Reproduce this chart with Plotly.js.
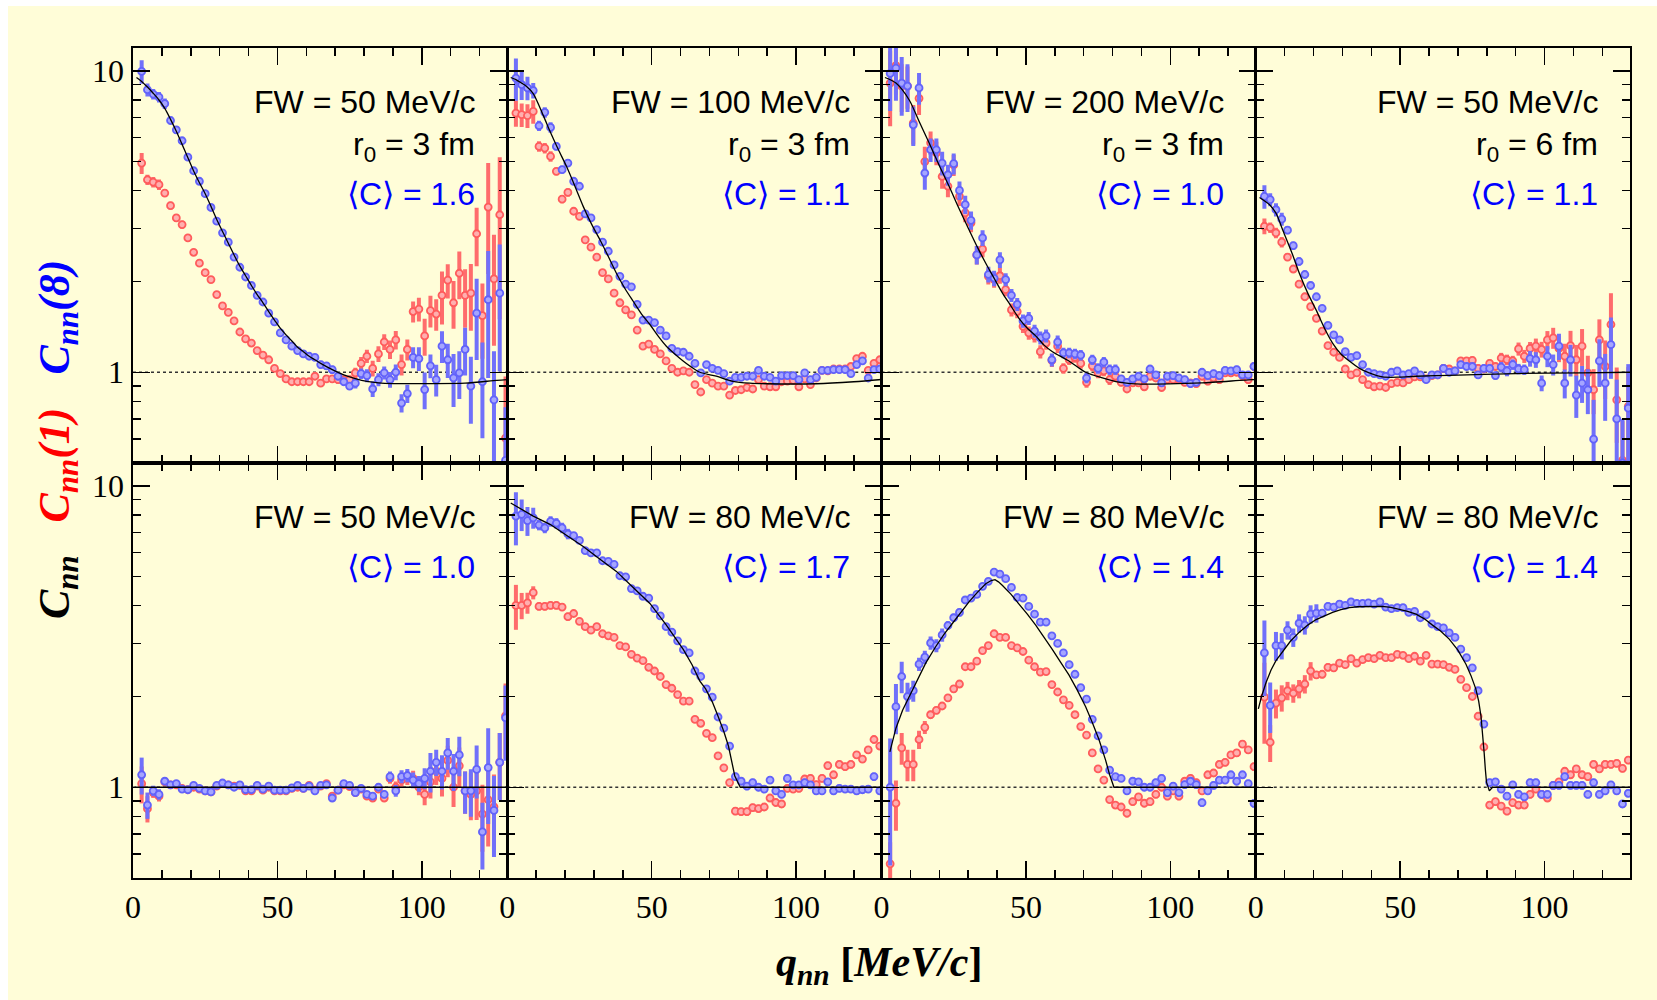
<!DOCTYPE html>
<html><head><meta charset="utf-8">
<script src="https://cdn.plot.ly/plotly-3.0.1.min.js"></script>
<style>
html,body{margin:0;padding:0;background:#ffffff;}
#chart{position:absolute;left:8px;top:6px;width:1649px;height:994px;}
</style></head><body><div id="chart"></div>
<script>
// ---------- data ----------
const Q = [3,5,7,9,11,13,15,17,19,21,23,25,27,29,31,33,35,37,39,41,43,45,47,49,51,53,55,57,59,61,63,65,67,69,71,73,75,77,79,81,83,85,87,89,91,93,95,97,99,101,103,105,107,109,111,113,115,117,119,121,123,125,127,129];

const X_MAJOR = [0, 50, 100];
const X_MAJOR_TEXT = ['0', '50', '100'];
const X_MINOR = [10, 20, 30, 40, 60, 70, 80, 90, 110, 120];
const Y_MAJOR = [1, 10];
const Y_MAJOR_TEXT = ['1', '10'];
const Y_MINOR = [0.6, 0.7, 0.8, 0.9, 2, 3, 4, 5, 6, 7, 8, 9];
const X_RANGE = [0, 129.6];
const Y_RANGE_VALUES = [0.5, 11.9];
const REF_LEVEL = 1;

// Panel 1: FW = 50 MeV/c, r0 = 3 fm
const P1_BLUE = [9.95,8.65,8.37,8.18,7.78,6.84,6.37,5.86,5.17,4.66,4.30,3.91,3.52,3.17,2.90,2.70,2.41,2.23,2.07,1.94,1.80,1.71,1.57,1.47,1.35,1.28,1.22,1.18,1.15,1.13,1.12,1.06,1.05,1.02,0.97,0.93,0.90,0.92,0.99,0.975,0.88,0.945,0.995,0.945,1.0,0.79,0.85,1.12,1.11,0.876,1.05,0.945,1.22,1.10,0.958,0.995,1.19,0.90,1.57,0.93,1.74,0.81,1.83,0.51];
const P1_BLUE_ERR = [9,5,4,4,4,3,3,3,2.5,2.5,2,2,2,2,2,2,2,2,2,2,2,2,2,2,2,2,2,2,2,2,2,3,3,3,3,3,3,4,4,5,6,5,5,6,6,7,7,8,9,14,9,12,12,13,20,18,18,25,30,35,45,45,45,50];
const P1_RED = [4.94,4.35,4.27,4.19,3.93,3.57,3.25,3.09,2.79,2.50,2.30,2.14,2.03,1.81,1.66,1.58,1.48,1.36,1.29,1.25,1.18,1.14,1.10,1.03,0.99,0.95,0.93,0.93,0.93,0.93,0.97,0.92,0.95,0.95,0.945,0.945,0.945,0.995,1.07,1.13,1.03,1.15,1.26,1.19,1.28,1.06,1.19,1.59,1.62,1.32,1.60,1.56,1.80,2.02,1.70,2.13,1.80,1.83,2.88,1.54,3.53,2.04,3.33,0.605];
const P1_RED_ERR = [8,4,4,4,3,3,3,3,2.5,2.5,2,2,2,2,2,2,2,2,2,2,2,2,2,2,2,2,2,2,2,2,2,2,2,2,3,3,3,4,5,5,6,6,6,7,7,8,8,8,9,14,12,12,20,13,18,18,22,25,22,28,40,40,55,60];
const P1_CURVE_Q = [1.2,3,5,7,9,11,13,15,17,19,21,23,25,27,29,31,33,35,37,39,41,43,45,47,49,51,53,55,57,59,61,63,65,69,73,77,81,85,90,102,115,126,129.6];
const P1_CURVE_C = [9.5,9.22,8.83,8.42,8.0,7.5,6.9,6.3,5.7,5.15,4.65,4.25,3.91,3.55,3.21,2.93,2.68,2.45,2.25,2.09,1.94,1.81,1.70,1.59,1.49,1.40,1.33,1.27,1.21,1.17,1.13,1.10,1.07,1.02,0.98,0.953,0.933,0.922,0.917,0.917,0.92,0.94,0.945];
const P1_TEXT = ['FW = 50 MeV/c', 'r<sub>0</sub> = 3 fm'];
const P1_MEANC = '\u27E8C\u27E9 = 1.6';

// Panel 2: FW = 100 MeV/c, r0 = 3 fm
const P2_BLUE = [9.46,8.99,8.77,8.6,6.57,7.28,6.49,5.61,4.70,4.94,4.30,4.14,3.35,3.25,2.97,2.70,2.52,2.27,2.08,1.96,1.92,1.68,1.49,1.49,1.46,1.38,1.32,1.20,1.17,1.165,1.13,1.07,0.995,1.06,1.03,1.015,0.99,0.935,0.962,0.962,0.97,0.97,1.015,0.97,0.962,0.935,0.975,0.975,0.975,0.945,0.995,0.945,0.962,1.015,1.015,1.02,1.02,1.02,0.99,1.06,1.09,0.957,1.02,1.025];
const P2_BLUE_ERR = [16,11,9,6,4,4,4,3,3,3,2.5,2.5,2.5,2.5,2.5,2,2,2,2,2,2,2,2,2,2,2,2,2,2,2,2,2,2,2,2,2,2,2,2,2,2,2,2,2,2,2,2,2,2,2,2,2,2,2,2,2,2,2,2,2.5,2.5,2.5,2.5,2.5];
const P2_RED = [7.24,7.15,7.10,7.33,5.61,5.54,5.20,4.64,3.75,3.95,3.42,3.29,2.75,2.60,2.41,2.14,2.04,1.83,1.70,1.61,1.55,1.38,1.22,1.24,1.19,1.15,1.09,1.03,1.00,1.01,1.00,0.91,0.86,0.945,0.92,0.90,0.90,0.84,0.87,0.875,0.89,0.88,0.945,0.90,0.895,0.895,0.93,0.935,0.94,0.895,0.95,0.91,0.957,1.015,1.01,1.025,1.025,1.025,1.045,1.11,1.13,1.015,1.07,1.10];
const P2_RED_ERR = [10,9,9,9,4,4,4,3,3,3,2.5,2.5,2.5,2.5,2.5,2,2,2,2,2,2,2,2,2,2,2,2,2,2,2,2,2,2,2,2,2,2,2,2,2,2,2,2,2,2,2,2,2,2,2,2,2,2,2,2,2,2,2,2,2.5,2.5,2.5,2.5,2.5];
const P2_CURVE_Q = [1.2,3,5,6.7,9,12.5,14.8,17.6,20.5,23.4,26.3,29.2,32.1,35,37.8,40.7,43.6,46.5,49.4,52.2,55.1,58,60.9,63.8,66.7,72.4,78.2,84,89.7,107,120,129.6];
const P2_CURVE_C = [9.5,9.35,9.1,8.87,8.4,7.1,6.3,5.5,4.82,4.15,3.55,3.1,2.75,2.42,2.13,1.9,1.72,1.56,1.44,1.32,1.22,1.15,1.09,1.04,1.0,0.97,0.933,0.92,0.916,0.916,0.93,0.946];
const P2_TEXT = ['FW = 100 MeV/c', 'r<sub>0</sub> = 3 fm'];
const P2_MEANC = '\u27E8C\u27E9 = 1.1';

// Panel 3: FW = 200 MeV/c, r0 = 3 fm
const P3_BLUE = [9.8,10.2,9.1,8.9,6.62,8.77,4.58,5.47,5.47,4.94,4.52,4.92,4.01,3.60,3.19,2.45,2.79,2.11,2.05,2.36,2.03,1.80,1.68,1.48,1.51,1.37,1.30,1.32,1.10,1.26,1.16,1.16,1.15,1.14,0.957,1.10,1.03,1.08,1.02,1.02,0.95,0.926,0.95,0.97,0.95,1.025,0.98,0.922,0.97,0.975,0.957,0.945,0.917,0.926,1.0,0.975,0.99,0.975,1.015,1.01,1.02,0.98,0.98,1.045];
const P3_BLUE_ERR = [25,22,22,18,15,12,12,9,9,9,8,8,7,7,7,7,6,6,6,6,5,5,5,5,5,5,5,5,5,5,4,4,4,4,4,4,4,4,4,4,3,3,3,3,3,3,3,3,3,3,3,3,3,3,3,3,3,3,3,3,3,3,3,3];
const P3_RED = [9.1,10.4,8.9,8.9,6.7,8.1,5.0,5.77,5.34,4.46,4.14,4.87,3.83,3.38,3.13,2.45,2.56,2.08,2.03,2.09,1.88,1.61,1.59,1.42,1.35,1.32,1.17,1.25,1.095,1.22,1.03,1.10,1.12,1.07,0.926,1.05,0.995,1.01,0.945,0.97,0.926,0.88,0.922,0.922,0.895,0.97,0.957,0.89,0.945,0.945,0.945,0.926,0.922,0.917,0.97,0.934,0.957,0.945,0.995,0.995,1.0,0.975,0.945,1.045];
const P3_RED_ERR = [28,20,18,16,15,12,12,9,9,9,8,8,7,7,7,7,6,6,6,6,5,5,5,5,5,5,5,5,5,5,4,4,4,4,4,4,4,4,4,4,3,3,3,3,3,3,3,3,3,3,3,3,3,3,3,3,3,3,3,3,3,3,3,3];
const P3_CURVE_Q = [1.2,5,9.6,13,16.5,20,23.4,26.8,30.3,33.2,36.1,39,41.9,44.8,47.6,50.5,53.4,56.3,59.2,64.9,70.7,76.5,82.2,88,99.5,111,128.4,129.6];
const P3_CURVE_C = [9.5,9.1,8.0,6.8,5.76,4.85,4.14,3.5,2.97,2.6,2.30,2.05,1.83,1.66,1.51,1.40,1.32,1.23,1.17,1.09,1.0,0.958,0.927,0.915,0.915,0.922,0.945,0.945];
const P3_TEXT = ['FW = 200 MeV/c', 'r<sub>0</sub> = 3 fm'];
const P3_MEANC = '\u27E8C\u27E9 = 1.0';

// Panel 4: FW = 50 MeV/c, r0 = 6 fm
const P4_BLUE = [3.83,3.74,3.46,3.22,2.96,2.63,2.33,2.11,1.94,1.78,1.63,1.43,1.33,1.28,1.17,1.12,1.135,1.06,1.0,0.99,0.98,0.97,1.0,1.01,0.98,0.99,1.01,0.98,0.945,0.98,0.98,1.03,1.0,1.01,1.06,1.045,1.045,0.98,1.03,1.03,0.975,1.04,1.01,1.06,1.025,1.02,1.11,1.10,0.92,1.13,1.06,1.22,0.92,1.10,0.84,0.92,0.875,0.60,1.09,0.92,1.235,0.70,0.50,0.76];
const P4_BLUE_ERR = [9,5,5,5,3,3,3,3,3,2,2,2,2,2,2,2,2,2,2,2,2,2,2,2,2,2,2,2,2,2,2,3,3,3,3,3,3,3,3,3,3,4,4,4,4,4,6,6,6,8,8,10,11,12,16,14,17,35,18,25,23,35,40,40];
const P4_RED = [3.05,3.02,2.90,2.70,2.41,2.20,1.96,1.78,1.65,1.51,1.37,1.225,1.165,1.12,1.025,0.98,0.995,0.945,0.91,0.895,0.90,0.89,0.917,0.926,0.922,0.945,0.965,0.965,0.95,0.975,0.98,1.03,1.025,1.01,1.09,1.09,1.095,1.03,1.025,1.07,1.045,1.115,1.10,1.09,1.195,1.13,1.20,1.22,1.19,1.28,1.30,1.20,1.13,1.225,1.10,1.22,0.995,0.875,1.28,1.045,1.44,0.81,0.51,0.77];
const P4_RED_ERR = [6,4,4,4,3,3,3,3,3,2,2,2,2,2,2,2,2,2,2,2,2,2,2,2,2,2,2,2,2,2,2,3,3,3,3,3,3,3,3,3,3,4,4,4,5,5,5,6,6,7,8,10,10,12,12,14,14,17,17,22,27,28,35,35];
const P4_CURVE_Q = [1.3,4.7,7.0,9.3,12.8,15.1,18,20.9,23.8,26.6,29.5,32.4,35.9,39.3,43.9,49.7,55.5,67,90,113,129.6];
const P4_CURVE_C = [3.80,3.60,3.37,2.97,2.45,2.13,1.83,1.61,1.40,1.25,1.15,1.09,1.03,0.995,0.965,0.963,0.97,0.977,0.99,0.995,1.0];
const P4_TEXT = ['FW = 50 MeV/c', 'r<sub>0</sub> = 6 fm'];
const P4_MEANC = '\u27E8C\u27E9 = 1.1';

// Panel 5: FW = 50 MeV/c
const P5_BLUE = [1.10,0.873,0.973,0.947,1.047,1.019,1.028,0.986,0.981,1.014,0.992,0.973,0.965,1.014,1.033,1.019,1.0,1.019,0.981,0.981,1.014,0.986,1.008,0.978,0.978,0.978,0.995,1.014,0.992,1.008,0.973,1.014,1.019,0.921,0.978,1.028,1.014,0.96,0.992,0.947,0.934,1.0,0.947,1.085,0.973,1.085,1.094,1.056,1.028,1.07,1.13,1.21,1.13,1.30,1.13,1.28,0.973,0.973,1.146,0.711,1.162,0.838,1.21,1.70];
const P5_BLUE_ERR = [14,10,4,4,2,2,2,2,2,2,2,2,2,2,2,2,2,2,2,2,2,2,2,2,2,2,2,2,2,2,2,2,2,2,2,2,2,2,2,2,2,3,3,4,4.5,5,5,6,6,8,15,10,13,12,14,15,16,18,20,25,35,30,25,28];
const P5_RED = [1.028,0.849,0.96,0.934,1.042,1.019,1.019,0.992,0.981,1.0,0.986,0.973,0.965,1.008,1.028,1.019,1.008,1.014,0.973,0.973,1.008,0.978,1.0,0.973,0.973,0.973,0.992,1.0,0.992,1.014,0.978,1.008,1.028,0.934,0.978,1.019,1.005,0.96,0.986,0.934,0.921,0.986,0.921,1.07,1.0,1.056,1.07,1.07,1.0,0.947,1.042,1.13,1.07,1.227,1.0,1.178,0.973,0.947,0.973,0.815,0.909,0.861,1.21,1.725];
const P5_RED_ERR = [14,10,4,4,2,2,2,2,2,2,2,2,2,2,2,2,2,2,2,2,2,2,2,2,2,2,2,2,2,2,2,2,2,2,2,2,2,2,2,2,2,3,3,4,4.5,5,5,6,6,8,12,10,13,12,14,15,16,18,20,25,30,28,25,28];
const P5_CURVE_Q = [0.5, 129.6];
const P5_CURVE_C = [1, 1];
const P5_TEXT = ['FW = 50 MeV/c'];
const P5_MEANC = '\u27E8C\u27E9 = 1.0';

// Panel 6: FW = 80 MeV/c, <C> = 1.7
const P6_BLUE = [7.93,8.04,7.66,7.83,7.41,7.25,7.62,7.51,7.25,6.92,6.83,6.59,6.09,5.99,5.99,5.64,5.61,5.49,5.03,4.99,4.56,4.48,4.30,4.24,3.91,3.70,3.41,3.27,3.06,2.86,2.79,2.43,2.33,2.12,1.99,1.71,1.57,1.37,1.085,1.047,1.008,1.036,1.0,0.986,1.056,0.973,0.947,1.07,1.019,1.019,1.036,1.019,0.973,0.973,1.042,0.973,0.992,0.986,0.986,0.973,0.981,0.986,1.085,0.973];
const P6_BLUE_ERR = [20,12,11,8,4,4,4,4,4,4,2,2,2,2,2,2,2,2,2,2,2,2,2,2,2,2,2,2,2,2,2,2,2,2,2,2,2,2,3,3,3,3,3,3,3,3,3,3,3,3,3,3,3,3,3,3,3,3,3,3,3,3,3,3];
const P6_RED = [4.01,4.01,4.09,4.42,3.98,3.98,4.01,4.01,3.96,3.68,3.77,3.55,3.41,3.32,3.41,3.23,3.18,3.14,2.95,2.92,2.76,2.68,2.63,2.50,2.43,2.33,2.19,2.13,2.03,1.93,1.93,1.68,1.63,1.51,1.46,1.27,1.16,1.036,0.833,0.83,0.83,0.856,0.85,0.86,0.921,0.89,0.88,0.992,0.986,0.992,1.065,1.07,1.02,1.07,1.18,1.10,1.19,1.17,1.19,1.28,1.24,1.33,1.44,1.37];
const P6_RED_ERR = [17,10,8,5,3,3,3,3,3,3,2,2,2,2,2,2,2,2,2,2,2,2,2,2,2,2,2,2,2,2,2,2,2,2,2,2,2,2,3,3,3,3,3,3,3,3,3,3,3,3,3,3,3,3,3,3,3,3,3,3,3,3,3,3];
const P6_CURVE_Q = [1.2,5,9,14.8,20.5,26.3,32,37.8,43.6,49.4,55.1,58,61,64,66.7,68.7,71,73,75,76.6,77.6,78.8,80.7,129.6];
const P6_CURVE_C = [8.77,8.35,7.93,7.45,6.87,6.29,5.72,5.20,4.60,4.07,3.45,3.15,2.86,2.55,2.25,2.12,1.92,1.72,1.53,1.37,1.23,1.09,1.0,1.0];
const P6_TEXT = ['FW = 80 MeV/c'];
const P6_MEANC = '\u27E8C\u27E9 = 1.7';

// Panel 7: FW = 80 MeV/c, <C> = 1.4 (peaked)
const P7_BLUE = [1.0,1.85,2.33,2.0,2.09,2.56,2.70,3.01,2.95,3.20,3.44,3.65,3.80,4.18,4.24,4.36,4.64,4.82,5.17,5.09,4.92,4.60,4.26,4.24,3.98,3.75,3.53,3.53,3.18,3.00,2.79,2.55,2.37,2.14,1.96,1.68,1.48,1.33,1.14,1.085,1.07,0.973,1.047,1.042,1.0,1.0,1.036,1.07,0.96,1.008,0.96,1.02,1.047,1.02,0.889,0.973,1.014,1.056,1.056,1.10,1.047,1.10,1.028,0.884];
const P7_BLUE_ERR = [45,19,12,11,8,5,5,5,5,5,3,3,3,3,3,2,2,2,2,2,2,2,2,2,2,2,2,2,2,2,2,2,2,2,2,2,2,2,2,2,2,3,3,3,3,3,3,3,3,3,3,3,3,3,3,3,3,3,3,3,3,3,3,3];
const P7_RED = [0.557,0.885,1.35,1.19,1.19,1.44,1.58,1.74,1.80,1.86,1.98,2.12,2.20,2.51,2.51,2.62,2.84,2.95,3.23,3.14,3.14,2.95,2.90,2.82,2.64,2.51,2.41,2.42,2.19,2.07,1.95,1.87,1.74,1.59,1.49,1.30,1.15,1.056,0.91,0.873,0.86,0.82,0.896,0.929,0.885,0.896,0.947,1.0,0.934,0.973,0.934,1.047,1.07,1.036,0.973,1.10,1.115,1.19,1.21,1.28,1.30,1.39,1.33,1.17];
const P7_RED_ERR = [18,19,12,12,12,7,5,3,3,3,3,3,3,2,2,2,2,2,2,2,2,2,2,2,2,2,2,2,2,2,2,2,2,2,2,2,2,2,2,2,2,3,3,3,3,3,3,3,3,3,3,3,3,3,3,3,3,3,3,3,3,3,3,3];
const P7_CURVE_Q = [2.9,5,7.3,9.6,11.9,15.3,18.8,21.7,24.6,27.5,30.3,33.2,36.1,38,39.3,40.5,41.9,44.8,47.6,50.5,53.4,56.3,59.2,62,64.9,67.8,70.7,73,75.3,77.6,79,80.5,129.6];
const P7_CURVE_C = [1.31,1.57,1.80,2.0,2.23,2.58,2.93,3.22,3.50,3.82,4.12,4.43,4.73,4.85,4.88,4.80,4.67,4.37,4.07,3.75,3.45,3.15,2.86,2.60,2.36,2.10,1.85,1.64,1.44,1.23,1.10,1.0,1.0];
const P7_TEXT = ['FW = 80 MeV/c'];
const P7_MEANC = '\u27E8C\u27E9 = 1.4';

// Panel 8: FW = 80 MeV/c, <C> = 1.4 (plateau)
const P8_BLUE = [2.79,1.87,2.95,2.95,3.32,3.14,3.50,3.45,3.75,3.78,3.78,3.98,3.96,4.05,4.01,4.12,4.07,4.07,4.09,4.05,4.12,3.96,3.91,3.94,3.94,3.80,3.83,3.65,3.73,3.48,3.41,3.38,3.25,3.14,2.87,2.69,2.49,2.09,1.62,1.036,1.042,0.986,0.934,1.019,0.947,0.929,1.036,1.036,0.947,0.947,1.014,1.014,1.085,1.014,1.014,1.014,0.947,1.036,0.947,0.973,1.019,0.973,0.880,0.955];
const P8_BLUE_ERR = [28,19,11,10,7,7,7,7,7,7,3,3,3,3,2,2,2,2,2,2,2,2,2,2,2,2,2,2,2,2,2,2,2,2,2,2,2,2,2,3,3,3,3,3,3,3,3,3,3,3,3,3,3,3,3,3,3,3,3,3,3,3,3,3];
const P8_RED = [1.99,1.41,1.90,1.98,2.09,2.05,2.12,2.20,2.43,2.36,2.37,2.50,2.49,2.58,2.55,2.67,2.58,2.65,2.69,2.67,2.74,2.69,2.69,2.76,2.74,2.67,2.72,2.62,2.74,2.56,2.56,2.55,2.50,2.46,2.28,2.14,2.0,1.72,1.36,0.873,0.896,0.866,0.833,0.889,0.873,0.873,0.947,0.986,0.947,0.921,1.014,1.042,1.13,1.10,1.15,1.10,1.085,1.19,1.15,1.19,1.19,1.20,1.155,1.23];
const P8_RED_ERR = [30,14,11,10,7,7,7,7,7,3,3,3,3,2,2,2,2,2,2,2,2,2,2,2,2,2,2,2,2,2,2,2,2,2,2,2,2,2,2,3,3,3,3,3,3,3,3,3,3,3,3,3,3,3,3,3,3,3,3,3,3,3,3,3];
const P8_CURVE_Q = [0.9,2,3.6,5.3,7,9.3,12,15.1,18,20.9,23.8,26.6,29.5,32.4,35.3,38.2,41,43.9,46.8,49.7,52.6,55.5,58.4,61.2,64,67,70,72.8,74.5,76.2,77.2,78,78.6,79.1,79.5,79.9,80.9,82,129.6];
const P8_CURVE_C = [1.82,2.0,2.23,2.45,2.63,2.82,3.05,3.27,3.45,3.60,3.71,3.80,3.88,3.94,3.97,3.98,3.99,3.98,3.95,3.90,3.83,3.75,3.62,3.45,3.30,3.10,2.85,2.56,2.35,2.12,1.93,1.72,1.50,1.30,1.15,1.04,0.973,1.0,1.0];
const P8_TEXT = ['FW = 80 MeV/c'];
const P8_MEANC = '\u27E8C\u27E9 = 1.4';

// ---------- styles ----------
const BG = '#FFFDD8';
const BLUE_LINE = 'rgb(98,98,250)';
const BLUE_FILL = 'rgb(165,165,255)';
const BLUE_BAR = 'rgb(112,112,250)';
const RED_LINE = 'rgb(255,92,92)';
const RED_FILL = 'rgb(255,175,175)';
const RED_BAR = 'rgb(255,108,108)';

const PANELS = [
  {blue:P1_BLUE, be:P1_BLUE_ERR, red:P1_RED, re:P1_RED_ERR, cq:P1_CURVE_Q, cc:P1_CURVE_C, text:P1_TEXT, meanc:P1_MEANC, smooth:true},
  {blue:P2_BLUE, be:P2_BLUE_ERR, red:P2_RED, re:P2_RED_ERR, cq:P2_CURVE_Q, cc:P2_CURVE_C, text:P2_TEXT, meanc:P2_MEANC, smooth:true},
  {blue:P3_BLUE, be:P3_BLUE_ERR, red:P3_RED, re:P3_RED_ERR, cq:P3_CURVE_Q, cc:P3_CURVE_C, text:P3_TEXT, meanc:P3_MEANC, smooth:true},
  {blue:P4_BLUE, be:P4_BLUE_ERR, red:P4_RED, re:P4_RED_ERR, cq:P4_CURVE_Q, cc:P4_CURVE_C, text:P4_TEXT, meanc:P4_MEANC, smooth:true},
  {blue:P5_BLUE, be:P5_BLUE_ERR, red:P5_RED, re:P5_RED_ERR, cq:P5_CURVE_Q, cc:P5_CURVE_C, text:P5_TEXT, meanc:P5_MEANC, smooth:false},
  {blue:P6_BLUE, be:P6_BLUE_ERR, red:P6_RED, re:P6_RED_ERR, cq:P6_CURVE_Q, cc:P6_CURVE_C, text:P6_TEXT, meanc:P6_MEANC, smooth:false},
  {blue:P7_BLUE, be:P7_BLUE_ERR, red:P7_RED, re:P7_RED_ERR, cq:P7_CURVE_Q, cc:P7_CURVE_C, text:P7_TEXT, meanc:P7_MEANC, smooth:false},
  {blue:P8_BLUE, be:P8_BLUE_ERR, red:P8_RED, re:P8_RED_ERR, cq:P8_CURVE_Q, cc:P8_CURVE_C, text:P8_TEXT, meanc:P8_MEANC, smooth:false}
];

const traces = [];
const shapes = [];
const annotations = [];
const layout = {
  width: 1649, height: 994,
  margin: {l: 125, r: 27, t: 42, b: 122, pad: 0},
  paper_bgcolor: BG, plot_bgcolor: BG,
  showlegend: false,
  font: {family: 'Liberation Serif', color: '#000'},
  shapes: shapes, annotations: annotations
};

const TOP_OFFSETS = [-54, -98];
const MEANC_OFFSET_TOP = -146;
const MEANC_OFFSET_BOTTOM = -104;
const TICK_FONT = {family: 'Liberation Serif', size: 32, color: '#000'};

PANELS.forEach((p, k) => {
  const n = k + 1;
  const xa = n === 1 ? 'x' : 'x' + n;
  const ya = n === 1 ? 'y' : 'y' + n;
  const xkey = n === 1 ? 'xaxis' : 'xaxis' + n;
  const ykey = n === 1 ? 'yaxis' : 'yaxis' + n;
  const col = k % 4;
  const top = k < 4;

  layout[xkey] = {
    domain: [col * 0.25, (col + 1) * 0.25], anchor: ya,
    range: X_RANGE, autorange: false,
    showline: true, linecolor: '#000', linewidth: 1.6, mirror: 'ticks',
    ticks: 'inside', ticklen: 17, tickwidth: 1.5, tickcolor: '#000',
    tickmode: 'array', tickvals: X_MAJOR, ticktext: X_MAJOR_TEXT,
    showticklabels: !top, ticklabelstandoff: 0,
    tickfont: TICK_FONT,
    minor: {tickmode: 'array', tickvals: X_MINOR, ticks: 'inside', ticklen: 8, tickwidth: 1.5, tickcolor: '#000', showgrid: false},
    showgrid: false, zeroline: false, fixedrange: true
  };
  layout[ykey] = {
    domain: top ? [0.5, 1] : [0, 0.5], anchor: xa,
    type: 'log', range: [Math.log10(Y_RANGE_VALUES[0]), Math.log10(Y_RANGE_VALUES[1])], autorange: false,
    showline: true, linecolor: '#000', linewidth: 1.6, mirror: 'ticks',
    ticks: 'inside', ticklen: 17, tickwidth: 1.5, tickcolor: '#000',
    tickmode: 'array', tickvals: Y_MAJOR, ticktext: Y_MAJOR_TEXT,
    showticklabels: col === 0, ticklabelstandoff: 1,
    tickfont: TICK_FONT,
    minor: {tickmode: 'array', tickvals: Y_MINOR, ticks: 'inside', ticklen: 8, tickwidth: 1.5, tickcolor: '#000', showgrid: false},
    showgrid: false, zeroline: false, fixedrange: true
  };

  shapes.push({type: 'line', xref: xa + ' domain', yref: ya, x0: 0, x1: 1, y0: REF_LEVEL, y1: REF_LEVEL,
    line: {color: '#333', width: 1.3, dash: 'dot'}, layer: 'below'});

  traces.push({
    type: 'scatter', mode: 'markers', x: Q, y: p.red, xaxis: xa, yaxis: ya,
    error_y: {type: 'data', array: p.red.map((v, i) => v * p.re[i] / 100), color: RED_BAR, thickness: 4, width: 0},
    marker: {symbol: 'circle', size: 7, color: RED_FILL, line: {color: RED_LINE, width: 1.8}},
    hoverinfo: 'skip'
  });
  traces.push({
    type: 'scatter', mode: 'markers', x: Q, y: p.blue, xaxis: xa, yaxis: ya,
    error_y: {type: 'data', array: p.blue.map((v, i) => v * p.be[i] / 100), color: BLUE_BAR, thickness: 4, width: 0},
    marker: {symbol: 'circle', size: 7, color: BLUE_FILL, line: {color: BLUE_LINE, width: 1.8}},
    hoverinfo: 'skip'
  });
  traces.push({
    type: 'scatter', mode: 'lines', x: p.cq, y: p.cc, xaxis: xa, yaxis: ya,
    line: p.smooth ? {color: '#000', width: 1.3, shape: 'spline', smoothing: 0.8} : {color: '#000', width: 1.3},
    hoverinfo: 'skip'
  });

  p.text.forEach((t, j) => {
    annotations.push({xref: xa + ' domain', yref: ya + ' domain', x: 1, y: 1, xanchor: 'right', yanchor: 'middle',
      xshift: -30, yshift: TOP_OFFSETS[j], text: t, showarrow: false,
      font: {family: 'Liberation Sans', size: 32, color: '#000'}});
  });
  annotations.push({xref: xa + ' domain', yref: ya + ' domain', x: 1, y: 1, xanchor: 'right', yanchor: 'middle',
    xshift: -30, yshift: top ? MEANC_OFFSET_TOP : MEANC_OFFSET_BOTTOM, text: p.meanc, showarrow: false,
    font: {family: 'Liberation Sans', size: 32, color: '#0000FF'}});
});

// axis titles
annotations.push({xref: 'paper', yref: 'paper', x: -0.05, y: 0.529, xanchor: 'center', yanchor: 'middle', textangle: -90,
  showarrow: false,
  text: '<b><i>C<sub>nn</sub></i></b>&nbsp;&nbsp;&nbsp;<span style="color:#ff0000"><b><i>C<sub>nn</sub>(1)</i></b></span>&nbsp;&nbsp;&nbsp;<span style="color:#0000ff"><b><i>C<sub>nn</sub>(8)</i></b></span>',
  font: {family: 'Liberation Serif', size: 44, color: '#000'}});
annotations.push({xref: 'paper', yref: 'paper', x: 0.4987, y: -0.105, xanchor: 'center', yanchor: 'middle',
  showarrow: false,
  text: '<b><i>q</i><sub><i>nn</i></sub> [<i>MeV/c</i>]</b>',
  font: {family: 'Liberation Serif', size: 42, color: '#000'}});

Plotly.newPlot('chart', traces, layout, {staticPlot: true, displayModeBar: false});
</script>
</body></html>
